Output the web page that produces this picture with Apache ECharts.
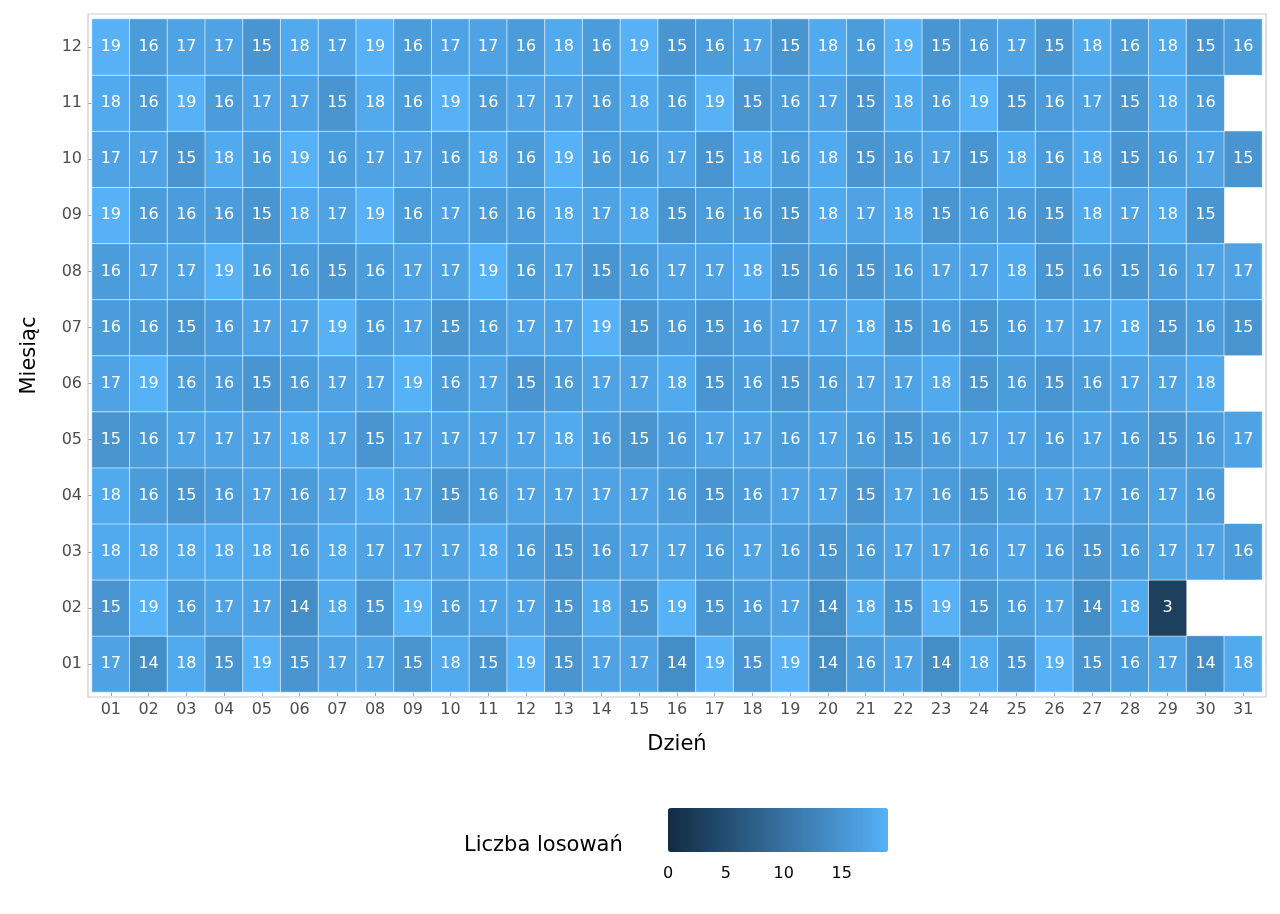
<!DOCTYPE html>
<html><head><meta charset="utf-8">
<script src="https://cdn.jsdelivr.net/npm/echarts@6/dist/echarts.min.js"></script>
<style>html,body{margin:0;padding:0;background:#fff}#c{width:1280px;height:914px}</style>
</head><body><div id="c"></div>
<script>
const days = Array.from({length:31},(_,i)=>String(i+1).padStart(2,'0'));
const months = ['01','02','03','04','05','06','07','08','09','10','11','12'];
const m01=[17,14,18,15,19,15,17,17,15,18,15,19,15,17,17,14,19,15,19,14,16,17,14,18,15,19,15,16,17,14,18];
const m02=[15,19,16,17,17,14,18,15,19,16,17,17,15,18,15,19,15,16,17,14,18,15,19,15,16,17,14,18,3];
const m03=[18,18,18,18,18,16,18,17,17,17,18,16,15,16,17,17,16,17,16,15,16,17,17,16,17,16,15,16,17,17,16];
const m04=[18,16,15,16,17,16,17,18,17,15,16,17,17,17,17,16,15,16,17,17,15,17,16,15,16,17,17,16,17,16];
const m05=[15,16,17,17,17,18,17,15,17,17,17,17,18,16,15,16,17,17,16,17,16,15,16,17,17,16,17,16,15,16,17];
const m06=[17,19,16,16,15,16,17,17,19,16,17,15,16,17,17,18,15,16,15,16,17,17,18,15,16,15,16,17,17,18];
const m07=[16,16,15,16,17,17,19,16,17,15,16,17,17,19,15,16,15,16,17,17,18,15,16,15,16,17,17,18,15,16,15];
const m08=[16,17,17,19,16,16,15,16,17,17,19,16,17,15,16,17,17,18,15,16,15,16,17,17,18,15,16,15,16,17,17];
const m09=[19,16,16,16,15,18,17,19,16,17,16,16,18,17,18,15,16,16,15,18,17,18,15,16,16,15,18,17,18,15];
const m10=[17,17,15,18,16,19,16,17,17,16,18,16,19,16,16,17,15,18,16,18,15,16,17,15,18,16,18,15,16,17,15];
const m11=[18,16,19,16,17,17,15,18,16,19,16,17,17,16,18,16,19,15,16,17,15,18,16,19,15,16,17,15,18,16];
const m12=[19,16,17,17,15,18,17,19,16,17,17,16,18,16,19,15,16,17,15,18,16,19,15,16,17,15,18,16,18,15,16];
const legendTicks=[0,5,10,15];
const all=[m01,m02,m03,m04,m05,m06,m07,m08,m09,m10,m11,m12];
const data=[];
all.forEach((row,mi)=>row.forEach((v,di)=>data.push([di,mi,v])));
const chart=echarts.init(document.getElementById('c'));
const L0=668,L1=888,vmax=19;
chart.setOption({
  animation:false,
  grid:{left:92,right:18,top:19,bottom:222,show:false},
  xAxis:{type:'category',data:days,name:'Dzień',nameLocation:'middle',nameGap:42,
    nameTextStyle:{fontSize:21,color:'#000',fontFamily:'DejaVu Sans'},
    axisLine:{show:false},axisTick:{show:true,length:4,lineStyle:{color:'#aaa'},alignWithLabel:true},
    axisLabel:{fontSize:16,color:'#4d4d4d',margin:10,fontFamily:'DejaVu Sans'},
    splitLine:{show:false}},
  yAxis:{type:'category',data:months,name:'Miesiąc',nameLocation:'middle',nameGap:52,
    nameTextStyle:{fontSize:21,color:'#000',fontFamily:'DejaVu Sans'},
    axisLine:{show:false},axisTick:{show:true,length:4,lineStyle:{color:'#aaa'},alignWithLabel:true},
    axisLabel:{fontSize:16,color:'#4d4d4d',margin:10,fontFamily:'DejaVu Sans'},
    splitLine:{show:false}},
  visualMap:{type:'continuous',min:0,max:vmax,orient:'horizontal',left:L0,top:808,padding:0,
    itemWidth:44,itemHeight:L1-L0,calculable:false,text:null,showLabel:false,
    inRange:{color:['#132B43','#56B1F7']},textStyle:{color:'transparent'}},
  graphic:[
    {type:'rect',shape:{x:88,y:14,width:1178,height:683},style:{fill:'none',stroke:'#cccccc',lineWidth:1.2},z:-1},
    {type:'text',left:464,top:835,style:{text:'Liczba losowań',fontSize:21,fill:'#000',fontFamily:'DejaVu Sans'}},
    ...legendTicks.map(t=>({type:'text',x:L0+(L1-L0)*t/vmax,y:866,
      style:{text:String(t),fontSize:16,fill:'#000',align:'center',fontFamily:'DejaVu Sans'}}))
  ],
  series:[{type:'heatmap',data:data,
    itemStyle:{borderColor:'#ffffff',borderWidth:0.6},
    label:{show:true,color:'#fff',fontSize:16,fontFamily:'DejaVu Sans'}}]
});
</script></body></html>
